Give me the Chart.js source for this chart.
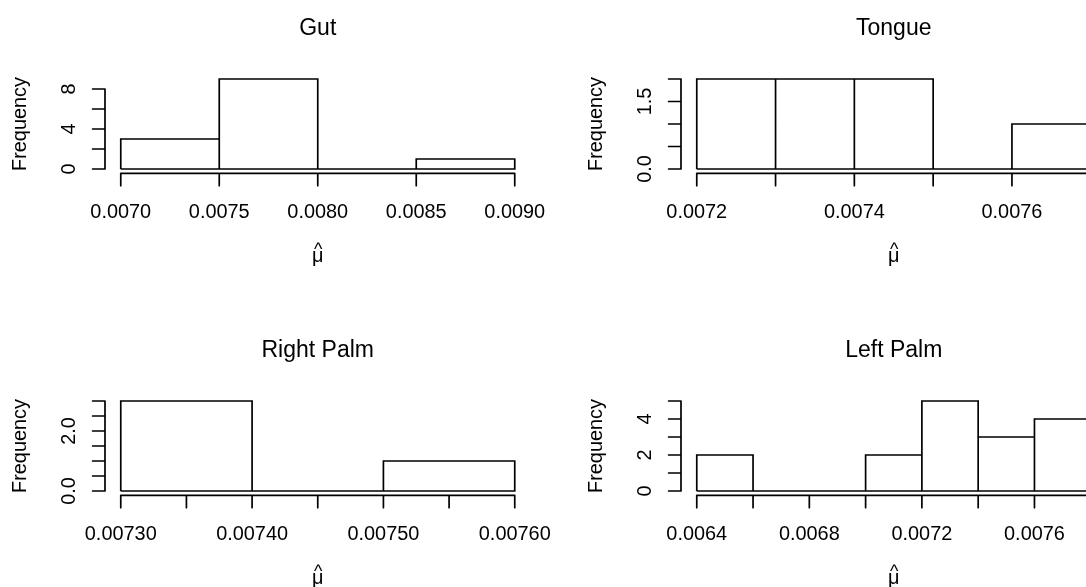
<!DOCTYPE html>
<html>
<head>
<meta charset="utf-8">
<title>Histograms of μ̂ by body site</title>
<script src="https://cdn.jsdelivr.net/npm/chart.js@4.4.1/dist/chart.umd.min.js"></script>
<style>
  html, body { margin: 0; padding: 0; background: #fff; overflow: hidden; }
  #wrap { position: relative; width: 1086px; height: 587px; overflow: hidden; background: #fff; }
  #wrap canvas { position: absolute; }
</style>
</head>
<body>
<div id="wrap">
  <canvas id="gut" width="576" height="322" style="left:0px;top:0px"></canvas>
  <canvas id="tongue" width="576" height="322" style="left:576px;top:0px"></canvas>
  <canvas id="rightPalm" width="576" height="265" style="left:0px;top:322px"></canvas>
  <canvas id="leftPalm" width="576" height="265" style="left:576px;top:322px"></canvas>
</div>
<script>
// ---- bin edges and counts per body site ----
const gutBreaks = [0.0070, 0.0075, 0.0080, 0.0085, 0.0090];
const gutCounts = [3, 9, 0, 1];

const tongueBreaks = [0.0072, 0.0073, 0.0074, 0.0075, 0.0076, 0.0077];
const tongueCounts = [2, 2, 2, 0, 1];

const rightPalmBreaks = [0.0073, 0.0074, 0.0075, 0.0076];
const rightPalmCounts = [3, 0, 1];

const leftPalmBreaks = [0.0064, 0.0066, 0.0068, 0.0070, 0.0072, 0.0074, 0.0076, 0.0078];
const leftPalmCounts = [2, 0, 0, 2, 5, 3, 4];

// ---- axis ticks and their labels ('' = tick without label) ----
const gutXTicks = [0.0070, 0.0075, 0.0080, 0.0085, 0.0090];
const gutXLabels = ['0.0070', '0.0075', '0.0080', '0.0085', '0.0090'];
const gutYTicks = [0, 2, 4, 6, 8];
const gutYLabels = ['0', '', '4', '', '8'];

const tongueXTicks = [0.0072, 0.0073, 0.0074, 0.0075, 0.0076, 0.0077];
const tongueXLabels = ['0.0072', '', '0.0074', '', '0.0076', ''];
const tongueYTicks = [0, 0.5, 1.0, 1.5, 2.0];
const tongueYLabels = ['0.0', '', '', '1.5', ''];

const rightPalmXTicks = [0.00730, 0.00735, 0.00740, 0.00745, 0.00750, 0.00755, 0.00760];
const rightPalmXLabels = ['0.00730', '', '0.00740', '', '0.00750', '', '0.00760'];
const rightPalmYTicks = [0, 0.5, 1.0, 1.5, 2.0, 2.5, 3.0];
const rightPalmYLabels = ['0.0', '', '', '', '2.0', '', ''];

const leftPalmXTicks = [0.0064, 0.0066, 0.0068, 0.0070, 0.0072, 0.0074, 0.0076, 0.0078];
const leftPalmXLabels = ['0.0064', '', '0.0068', '', '0.0072', '', '0.0076', ''];
const leftPalmYTicks = [0, 1, 2, 3, 4, 5];
const leftPalmYLabels = ['0', '', '2', '', '4', ''];

const FONT = '"Liberation Sans", Arial, Helvetica, sans-serif';
const INK = '#000000';
const LINE_W = 1.7;

// Base-graphics style axes: detached axis lines running tick-to-tick,
// outward ticks, y labels parallel to the axis, hatted x title.
const baseAxes = {
  id: 'baseAxes',
  afterDatasetsDraw(chart, args, o) {
    const { ctx, chartArea: a, scales: { x, y } } = chart;
    ctx.save();
    ctx.strokeStyle = INK;
    ctx.fillStyle = INK;
    ctx.lineWidth = LINE_W;
    ctx.lineCap = 'round';
    ctx.font = `${o.fontSize}px ${FONT}`;
    ctx.textAlign = 'center';
    ctx.textBaseline = 'middle';

    // x axis
    const xb = a.bottom + 0.7;
    const xs = o.xTicks.map(v => x.getPixelForValue(v));
    ctx.beginPath();
    ctx.moveTo(xs[0], xb);
    ctx.lineTo(xs[xs.length - 1], xb);
    xs.forEach(px => { ctx.moveTo(px, xb); ctx.lineTo(px, xb + o.tickLen); });
    ctx.stroke();
    o.xLabels.forEach((t, i) => { if (t) ctx.fillText(t, xs[i], a.bottom + 40.4); });

    // y axis
    const yl = a.left;
    const ys = o.yTicks.map(v => y.getPixelForValue(v));
    ctx.beginPath();
    ctx.moveTo(yl, ys[0]);
    ctx.lineTo(yl, ys[ys.length - 1]);
    ys.forEach(py => { ctx.moveTo(yl, py); ctx.lineTo(yl - o.tickLen, py); });
    ctx.stroke();
    o.yLabels.forEach((t, i) => {
      if (!t) return;
      ctx.save();
      ctx.translate(yl - 35.8, ys[i]);
      ctx.rotate(-Math.PI / 2);
      ctx.fillText(t, 0, 0);
      ctx.restore();
    });

    // y title
    ctx.save();
    ctx.translate(yl - 84, (a.top + a.bottom) / 2);
    ctx.rotate(-Math.PI / 2);
    ctx.fillText(o.yTitle, 0, 0);
    ctx.restore();

    // x title: symbol with a hat above it
    const cx = (a.left + a.right) / 2;
    ctx.textBaseline = 'alphabetic';
    ctx.fillText(o.xTitle, cx, a.bottom + 89.5);
    ctx.font = `${o.fontSize * 0.9}px ${FONT}`;
    ctx.fillText(o.xTitleHat, cx + 0.5, a.bottom + 82);

    ctx.restore();
  }
};

// Outline of the histogram rectangles, bar by bar, closed along the baseline.
function histOutline(breaks, counts) {
  const pts = [{ x: breaks[0], y: 0 }];
  counts.forEach((c, i) => {
    pts.push({ x: breaks[i], y: c });
    pts.push({ x: breaks[i + 1], y: c });
    pts.push({ x: breaks[i + 1], y: 0 });
  });
  pts.push({ x: breaks[0], y: 0 });
  return pts;
}

function makeHist(id, title, breaks, counts, xTicks, xLabels, yTicks, yLabels) {
  const canvas = document.getElementById(id);
  const lo = breaks[0], hi = breaks[breaks.length - 1];
  const ymax = Math.max(...counts);
  const xpad = 0.04 * (hi - lo), ypad = 0.04 * ymax;
  return new Chart(canvas, {
    type: 'scatter',
    data: {
      datasets: [{
        label: title,
        data: histOutline(breaks, counts),
        showLine: true,
        fill: false,
        borderColor: INK,
        borderWidth: LINE_W,
        borderJoinStyle: 'miter',
        pointRadius: 0,
        pointHoverRadius: 0,
        tension: 0
      }]
    },
    options: {
      responsive: false,
      animation: false,
      devicePixelRatio: 1,
      events: [],
      layout: { padding: { left: 105, right: 45.5, top: 0, bottom: canvas.height - 172.6 } },
      scales: {
        x: { type: 'linear', min: lo - xpad, max: hi + xpad, display: false },
        y: { type: 'linear', min: -ypad, max: ymax + ypad, display: false }
      },
      plugins: {
        legend: { display: false },
        tooltip: { enabled: false },
        title: {
          display: true,
          text: title,
          color: INK,
          font: { family: FONT, size: 23, weight: 'normal', lineHeight: 1.2 },
          padding: { top: 15.2, bottom: 32.6 }
        },
        baseAxes: {
          fontSize: 19.9,
          tickLen: 12.4,
          xTicks, xLabels, yTicks, yLabels,
          yTitle: 'Frequency',
          xTitle: 'μ',
          xTitleHat: '^'
        }
      }
    },
    plugins: [baseAxes]
  });
}

makeHist('gut', 'Gut', gutBreaks, gutCounts, gutXTicks, gutXLabels, gutYTicks, gutYLabels);
makeHist('tongue', 'Tongue', tongueBreaks, tongueCounts, tongueXTicks, tongueXLabels, tongueYTicks, tongueYLabels);
makeHist('rightPalm', 'Right Palm', rightPalmBreaks, rightPalmCounts, rightPalmXTicks, rightPalmXLabels, rightPalmYTicks, rightPalmYLabels);
makeHist('leftPalm', 'Left Palm', leftPalmBreaks, leftPalmCounts, leftPalmXTicks, leftPalmXLabels, leftPalmYTicks, leftPalmYLabels);
</script>
</body>
</html>
